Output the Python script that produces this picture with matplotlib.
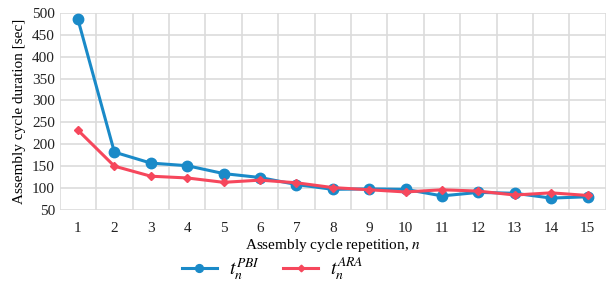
import numpy as np
import matplotlib.pyplot as plt

plt.rcParams['font.family'] = ['Liberation Serif', 'DejaVu Serif']
plt.rcParams['mathtext.fontset'] = 'stix'

# data
repetitions = list(range(1, 16))
t_pbi = [485, 182, 157, 151, 133, 124, 108, 97, 98, 97, 82, 90, 88, 77, 80]
t_ara = [232, 150, 127, 123, 113, 118, 112, 101, 96, 91, 96, 93, 84, 89, 83]
y_ticks = [50, 100, 150, 200, 250, 300, 350, 400, 450, 500]

blue = '#1a8ac8'
red = '#f6475c'
grid_c = '#dcdcdc'

fig = plt.figure(figsize=(6.1, 2.81), dpi=100)
ax = fig.add_axes([0.098, 0.253, 0.895, 0.701])

ax.plot(repetitions, t_pbi, color=blue, lw=2.2, marker='o', ms=7.5,
        label=r'$t_n^{PBI}$', zorder=3)
ax.plot(repetitions, t_ara, color=red, lw=2.2, marker='D', ms=4.5,
        label=r'$t_n^{ARA}$', zorder=4)

ax.set_xlim(0.5, 15.5)
ax.set_ylim(50, 500)
ax.set_yticks(y_ticks)
ax.set_xticks(repetitions)
ax.set_xticks(np.arange(0.5, 16, 1), minor=True)

ax.grid(True, which='major', axis='y', color=grid_c, lw=1.2)
ax.grid(True, which='minor', axis='x', color=grid_c, lw=1.2)
ax.set_axisbelow(True)
for s in ax.spines.values():
    s.set_visible(False)
ax.tick_params(which='both', length=0, labelsize=11, colors='#222222')
ax.tick_params(axis='x', pad=9)

ax.set_ylabel('Assembly cycle duration [sec]', fontsize=11, labelpad=4)
ax.set_xlabel(r'Assembly cycle repetition, $\mathit{n}$', fontsize=11, labelpad=1)

ax.legend(loc='center', bbox_to_anchor=(0.39, -0.3), ncol=2,
          frameon=False, fontsize=14, handlelength=1.8, columnspacing=1.2,
          handletextpad=0.6, borderpad=0, markerscale=0.75)

fig.savefig('out.png', dpi=100)
